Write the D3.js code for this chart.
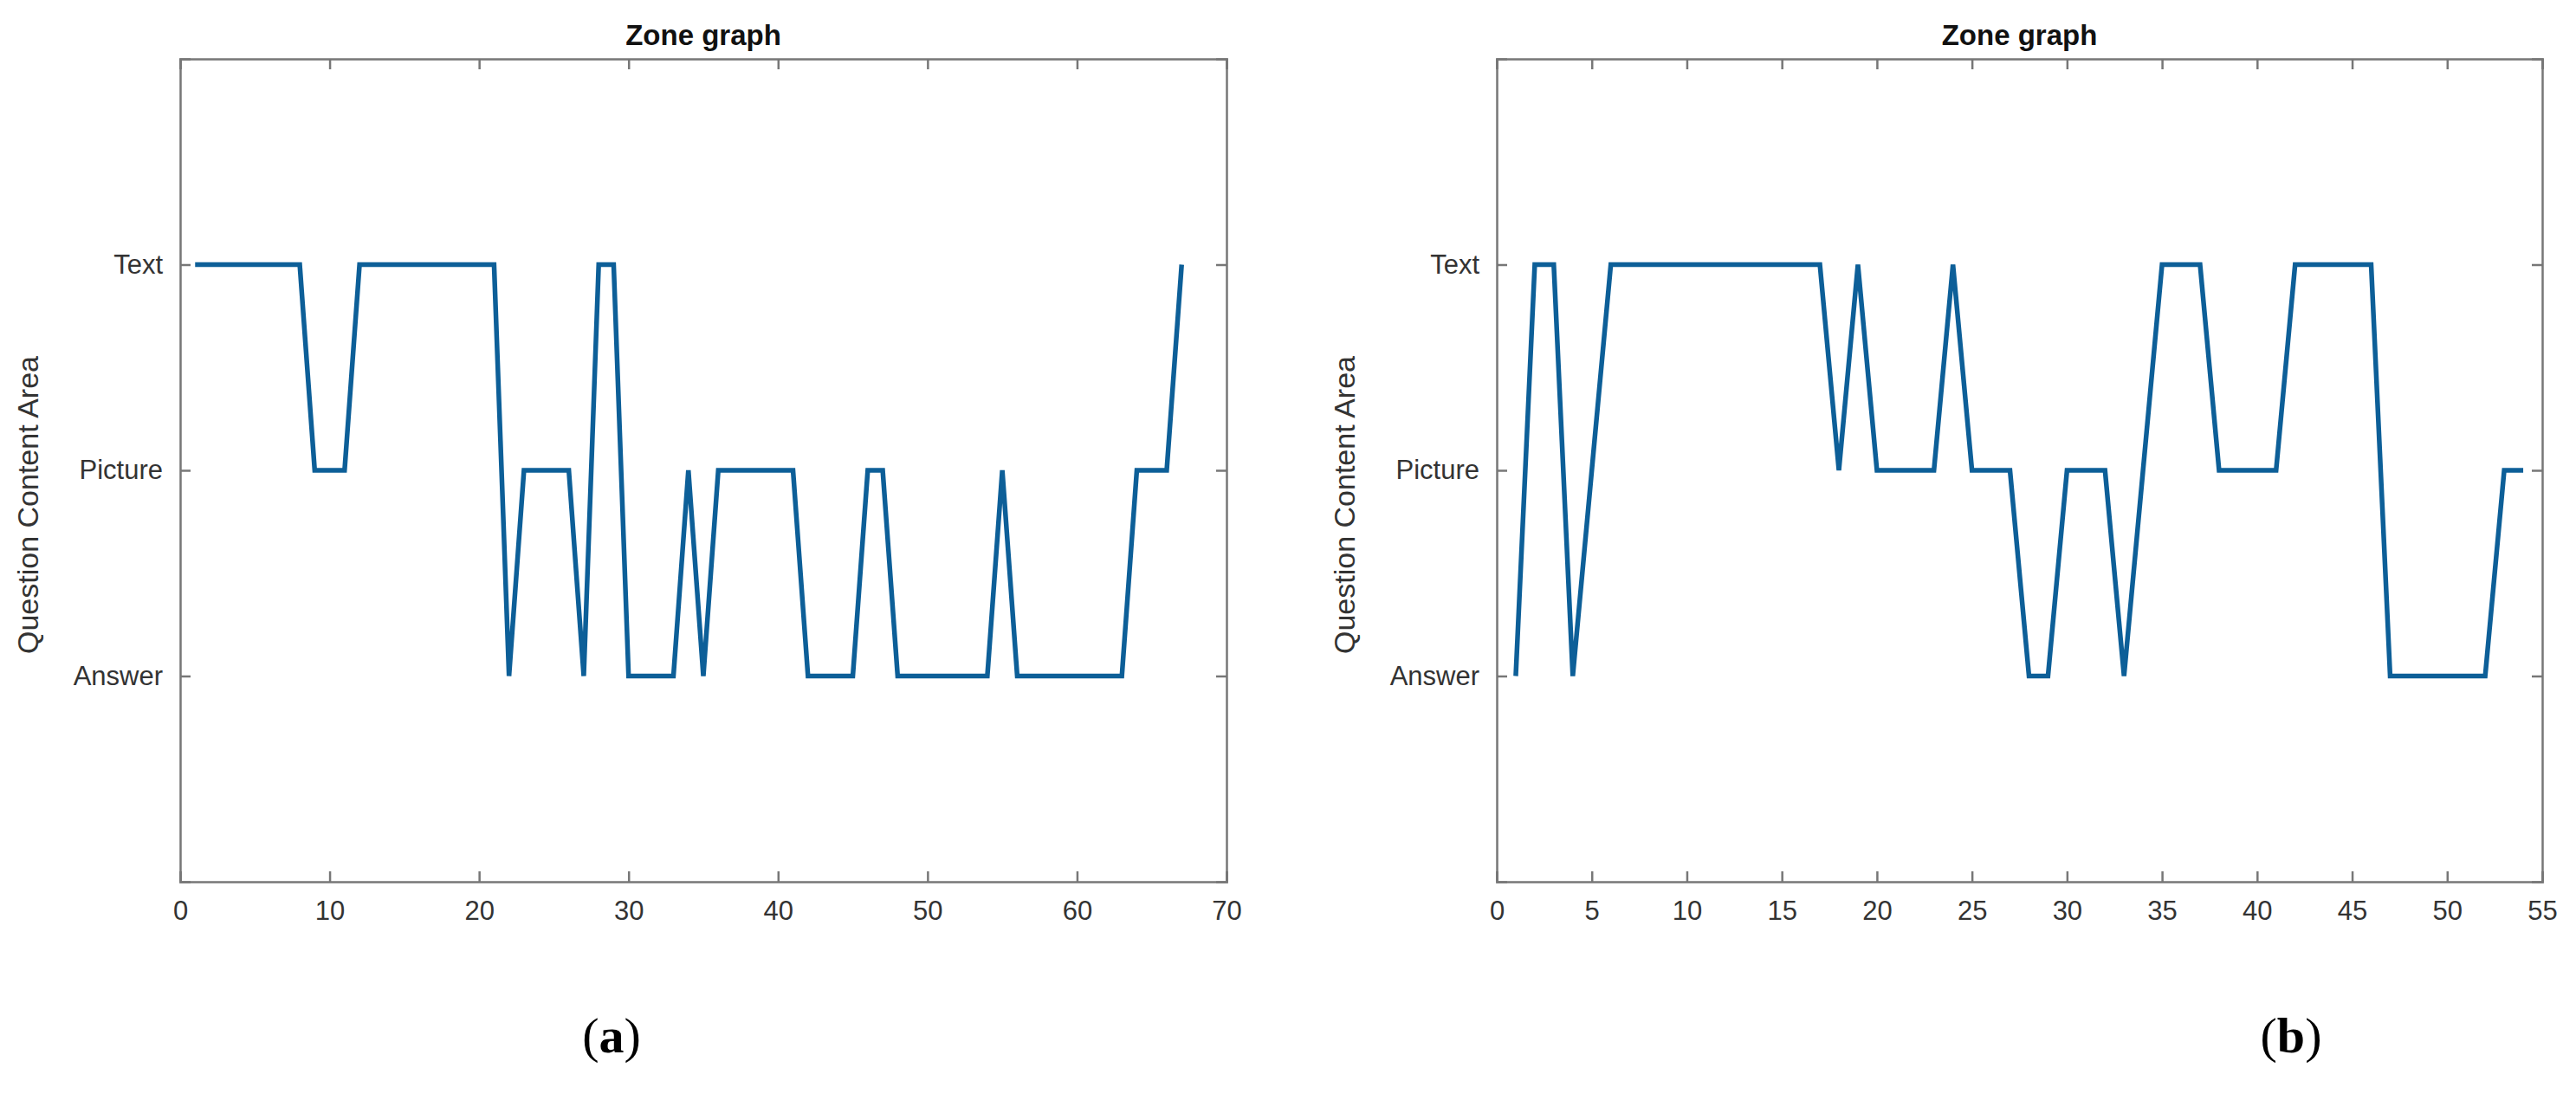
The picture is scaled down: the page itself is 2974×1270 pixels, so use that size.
<!DOCTYPE html>
<html><head><meta charset="utf-8">
<script src="https://cdn.jsdelivr.net/npm/d3@7"></script>
<style>body{margin:0;background:#fff}svg{display:block}</style>
</head><body>
<script>
const zoneLabels = ["Answer","Picture","Text"];
const zoneLevels = [1,2,3];
// zone codes: 1=Answer, 2=Picture, 3=Text
const seriesA = [3,3,3,3,3,3,3,3,2,2,2,3,3,3,3,3,3,3,3,3,3,1,2,2,2,2,1,3,3,1,1,1,1,2,1,2,2,2,2,2,2,1,1,1,1,2,2,1,1,1,1,1,1,1,2,1,1,1,1,1,1,1,1,2,2,2,3];
const seriesB = [1,3,3,1,2,3,3,3,3,3,3,3,3,3,3,3,3,2,3,2,2,2,2,3,2,2,2,1,1,2,2,2,1,2,3,3,3,2,2,2,2,3,3,3,3,3,1,1,1,1,1,1,2,2];
const ticksA = [0,10,20,30,40,50,60,70];
const ticksB = [0,5,10,15,20,25,30,35,40,45,50,55];

const W=2974,H=1270;
const svg=d3.select("body").append("svg").attr("width",W).attr("height",H);
const font="Arial, 'Liberation Sans', sans-serif";

function panel(data, xmax, ticks, x0, x1, caption, capX, ylabX){
  const top=68,bottom=1018;
  const x=d3.scaleLinear().domain([0,xmax]).range([x0,x1]);
  const y=d3.scaleLinear().domain([0,4]).range([bottom,top]);
  const g=svg.append("g");
  const ax=g.append("g").attr("transform",`translate(0,${bottom})`)
    .call(d3.axisBottom(x).tickValues(ticks).tickSize(-12).tickPadding(22).tickFormat(d3.format("d")));
  const axT=g.append("g").attr("transform",`translate(0,${top})`)
    .call(d3.axisTop(x).tickValues(ticks).tickSize(-12).tickFormat(""));
  const ay=g.append("g").attr("transform",`translate(${x0},0)`)
    .call(d3.axisLeft(y).tickValues(zoneLevels).tickSize(-12).tickPadding(20).tickFormat((d,i)=>zoneLabels[i]));
  const ayR=g.append("g").attr("transform",`translate(${x1},0)`)
    .call(d3.axisRight(y).tickValues(zoneLevels).tickSize(-12).tickFormat(""));
  [ax,axT,ay,ayR].forEach(a=>{
    a.selectAll("path,line").attr("stroke","#777").attr("stroke-width",2.5);
    a.selectAll("text").attr("font-family",font).attr("font-size",31).attr("fill","#333");
  });
  ax.selectAll("text").attr("dy","0.71em");
  const line=d3.line().x((d,i)=>x(i+1)).y(d=>y(d));
  g.append("path").datum(data).attr("d",line).attr("fill","none")
    .attr("stroke","#0d5f98").attr("stroke-width",5.5).attr("stroke-linejoin","miter");
  g.append("text").attr("x",(x0+x1)/2).attr("y",52).attr("text-anchor","middle")
    .attr("font-family",font).attr("font-weight","bold").attr("font-size",33).attr("fill","#111").text("Zone graph");
  g.append("text").attr("transform",`translate(${ylabX},${(top+bottom)/2+40}) rotate(-90)`)
    .attr("text-anchor","middle").attr("font-family",font).attr("font-size",34).attr("fill","#333").text("Question Content Area");
  const c=g.append("text").attr("x",capX).attr("y",1215).attr("text-anchor","middle")
    .attr("font-family","'Liberation Serif','DejaVu Serif',serif").attr("font-size",58).attr("fill","#000");
  c.append("tspan").text("(");
  c.append("tspan").attr("font-weight","bold").text(caption);
  c.append("tspan").text(")");
}
panel(seriesA,70,ticksA,208,1416,"a",706,44);
panel(seriesB,55,ticksB,1728,2935,"b",2645,1564);
</script>
</body></html>
